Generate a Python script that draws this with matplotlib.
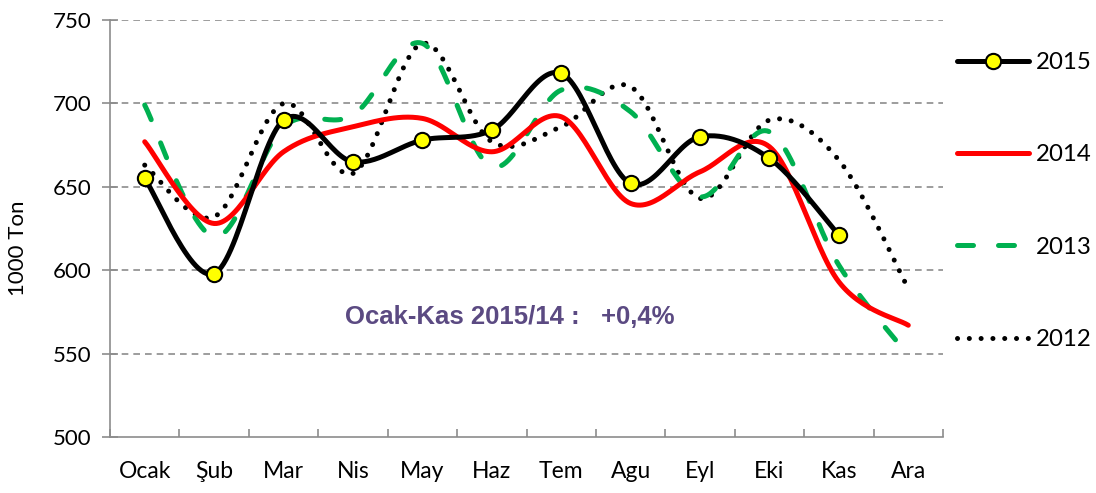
import numpy as np
import matplotlib
matplotlib.use("Agg")
import matplotlib.pyplot as plt
from matplotlib.lines import Line2D

months = ["Ocak", "Şub", "Mar", "Nis", "May", "Haz", "Tem", "Agu", "Eyl", "Eki", "Kas", "Ara"]
y2015 = [655, 598, 690, 665, 678, 684, 718, 652, 680, 667, 621]
y2014 = [677, 628, 671, 686, 691, 671, 692, 640, 659, 674, 593, 567]
y2013 = [699, 620, 686, 693, 736, 662, 708, 695, 644, 683, 603, 549]
y2012 = [663, 632, 700, 658, 736, 677, 686, 710, 643, 690, 666, 589]
yticks = [500, 550, 600, 650, 700, 750]

plt.rcParams['font.family'] = ['Lato', 'DejaVu Sans']


def smooth(xs, ys, n=30):
    """Excel-style smoothed line (Catmull-Rom Bezier) through the points."""
    xs = np.asarray(xs, float)
    ys = np.asarray(ys, float)
    px = np.concatenate([[xs[0]], xs, [xs[-1]]])
    py = np.concatenate([[ys[0]], ys, [ys[-1]]])
    ox, oy = [], []
    t = np.linspace(0, 1, n)
    for i in range(1, len(px) - 2):
        p0 = np.array([px[i], py[i]])
        p3 = np.array([px[i + 1], py[i + 1]])
        p1 = p0 + (np.array([px[i + 1], py[i + 1]]) - np.array([px[i - 1], py[i - 1]])) / 6
        p2 = p3 - (np.array([px[i + 2], py[i + 2]]) - np.array([px[i], py[i]])) / 6
        for tt in (t if i == 1 else t[1:]):
            b = ((1 - tt) ** 3) * p0 + 3 * ((1 - tt) ** 2) * tt * p1 + 3 * (1 - tt) * tt ** 2 * p2 + tt ** 3 * p3
            ox.append(b[0]); oy.append(b[1])
    return np.array(ox), np.array(oy)


fig = plt.figure(figsize=(10.96, 4.93), dpi=100)
ax = fig.add_axes([110 / 1096, 1 - 437 / 493, (943 - 110) / 1096, (437 - 20) / 493])

lw = 3.6
dash13 = (0, (3.2, 5.0))
dot12 = (0, (0.01, 2.35))
x12 = np.arange(12)
x11 = np.arange(11)

sx, sy = smooth(x12, y2012)
ax.plot(sx, sy, color='black', lw=lw, linestyle=dot12, dash_capstyle='round', zorder=3)
sx, sy = smooth(x12, y2013)
ax.plot(sx, sy, color='#00B050', lw=lw, linestyle=dash13, dash_capstyle='round', zorder=4)
sx, sy = smooth(x12, y2014)
ax.plot(sx, sy, color='#FF0000', lw=lw, solid_capstyle='round', zorder=5)
sx, sy = smooth(x11, y2015)
ax.plot(sx, sy, color='black', lw=lw, solid_capstyle='round', zorder=6)
ax.plot(x11, y2015, linestyle='none', marker='o', markersize=11, markerfacecolor='#FFFF00',
        markeredgecolor='black', markeredgewidth=1.5, zorder=7)

ax.set_xlim(-0.5, 11.5)
ax.set_ylim(500, 750)
ax.set_yticks(yticks)
ax.set_yticklabels([str(v) for v in yticks], fontsize=16)
ax.set_xticks(x12)
ax.set_xticklabels(months, fontsize=16.5)
ax.set_xticks(np.arange(-0.5, 12, 1), minor=True)

for v in yticks[1:]:
    ax.axhline(v, color='#8C8C8C', lw=1.2, linestyle=(0, (4, 3)), zorder=1)

for s in ['top', 'right']:
    ax.spines[s].set_visible(False)
for s in ['left', 'bottom']:
    ax.spines[s].set_color('#8C8C8C')
    ax.spines[s].set_linewidth(1.2)

ax.tick_params(axis='y', direction='inout', length=11, width=1.2, color='#8C8C8C', pad=8)
ax.tick_params(axis='x', which='major', length=0, pad=17)
ax.tick_params(axis='x', which='minor', direction='in', length=6, width=1.2, color='#8C8C8C')

fig.text(18 / 1096, 1 - 248 / 493, "1000 Ton", rotation=90, fontsize=16, ha='center', va='center')

ax.text(5.26, 572, "Ocak-Kas 2015/14 :   +0,4%", fontsize=18.5, fontweight='bold',
        color='#5B4A82', ha='center', va='center', family=['Liberation Sans', 'DejaVu Sans'])

handles = [
    Line2D([], [], color='black', lw=lw, marker='o', markersize=11, markerfacecolor='#FFFF00',
           markeredgecolor='black', markeredgewidth=1.5, solid_capstyle='round'),
    Line2D([], [], color='#FF0000', lw=lw, solid_capstyle='round'),
    Line2D([], [], color='#00B050', lw=lw, linestyle=dash13, dash_capstyle='round'),
    Line2D([], [], color='black', lw=lw, linestyle=dot12, dash_capstyle='round'),
]
fig.legend(handles, ["2015", "2014", "2013", "2012"], loc='upper left',
           bbox_to_anchor=(957 / 1096, 1 - 52 / 493), frameon=False, fontsize=17.3,
           handlelength=3.0, handletextpad=0.3, labelspacing=2.97, borderaxespad=0, borderpad=0)

fig.savefig("out.png", dpi=100)
